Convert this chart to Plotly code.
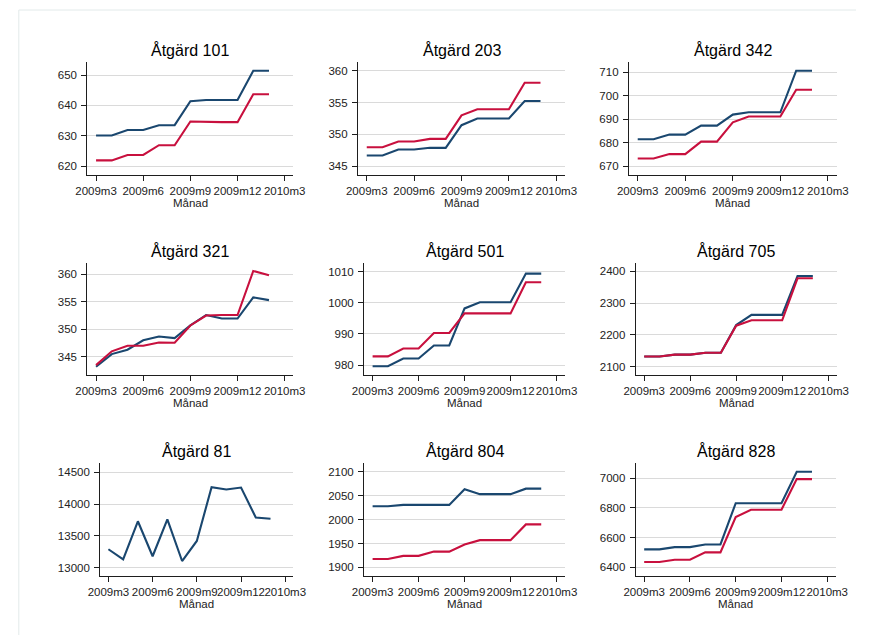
import plotly.graph_objects as go

W, H = 869, 635
FONT = "Liberation Sans, Arial, sans-serif"

# Monthly observations 2009m3 .. 2010m2 (index 0..11)
months = ["2009m3", "2009m4", "2009m5", "2009m6", "2009m7", "2009m8",
          "2009m9", "2009m10", "2009m11", "2009m12", "2010m1", "2010m2"]
month_idx = list(range(len(months)))
tick_vals = [0, 3, 6, 9, 12]
tick_labels = ["2009m3", "2009m6", "2009m9", "2009m12", "2010m3"]
x_title = "Månad"

titles = ["Åtgärd 101", "Åtgärd 203", "Åtgärd 342",
          "Åtgärd 321", "Åtgärd 501", "Åtgärd 705",
          "Åtgärd 81", "Åtgärd 804", "Åtgärd 828"]

# Series 1 (navy) and series 2 (red) per åtgärd
a101_s1 = [630.1, 630.1, 631.9, 631.9, 633.5, 633.5, 641.4, 641.8, 641.8, 641.8, 651.4, 651.4]
a101_s2 = [621.9, 621.9, 623.7, 623.7, 626.9, 626.9, 634.7, 634.5, 634.5, 634.5, 643.7, 643.7]

a203_s1 = [346.7, 346.7, 347.65, 347.65, 347.9, 347.9, 351.45, 352.5, 352.5, 352.5, 355.25, 355.25]
a203_s2 = [348.0, 348.0, 348.9, 348.9, 349.3, 349.3, 353.0, 353.95, 353.95, 353.95, 358.1, 358.1]

a342_s1 = [681.5, 681.5, 683.5, 683.5, 687.3, 687.3, 692.0, 693.0, 693.0, 693.0, 710.7, 710.7]
a342_s2 = [673.3, 673.3, 675.2, 675.2, 680.5, 680.5, 688.7, 691.2, 691.2, 691.2, 702.6, 702.6]

a321_s1 = [343.2, 345.5, 346.3, 348.0, 348.7, 348.4, 350.7, 352.6, 351.95, 351.95, 355.8, 355.3]
a321_s2 = [343.5, 346.0, 347.0, 347.0, 347.6, 347.55, 350.7, 352.5, 352.6, 352.6, 360.6, 359.8]

a501_s1 = [979.6, 979.6, 982.1, 982.1, 986.3, 986.3, 998.2, 1000.2, 1000.2, 1000.2, 1009.4, 1009.4]
a501_s2 = [982.8, 982.8, 985.3, 985.3, 990.3, 990.3, 996.6, 996.6, 996.6, 996.6, 1006.6, 1006.6]

a705_s1 = [2132, 2132, 2138, 2138, 2144, 2144, 2231, 2263, 2263, 2263, 2385, 2385]
a705_s2 = [2132, 2132, 2138, 2138, 2144, 2144, 2229, 2246, 2246, 2246, 2378, 2378]

a81_s1 = [13290, 13130, 13730, 13180, 13760, 13105, 13420, 14265, 14230, 14260, 13790, 13770]

a804_s1 = [2028, 2028, 2031, 2031, 2031, 2031, 2064, 2053.5, 2053.5, 2053.5, 2065, 2065]
a804_s2 = [1917.5, 1917.5, 1924, 1924, 1933, 1933, 1948, 1957, 1957, 1957, 1990, 1990]

a828_s1 = [6521, 6521, 6536, 6536, 6554, 6554, 6831, 6831, 6831, 6831, 7042, 7042]
a828_s2 = [6436, 6436, 6451, 6451, 6501, 6501, 6738, 6787, 6787, 6787, 6993, 6993]

series_s1 = [a101_s1, a203_s1, a342_s1, a321_s1, a501_s1, a705_s1, a81_s1, a804_s1, a828_s1]
series_s2 = [a101_s2, a203_s2, a342_s2, a321_s2, a501_s2, a705_s2, None, a804_s2, a828_s2]

y_ticks = [[620, 630, 640, 650], [345, 350, 355, 360], [670, 680, 690, 700, 710],
           [345, 350, 355, 360], [980, 990, 1000, 1010], [2100, 2200, 2300, 2400],
           [13000, 13500, 14000, 14500], [1900, 1950, 2000, 2050, 2100],
           [6400, 6600, 6800, 7000]]
y_ranges = [[617.1, 654.3], [343.64, 361.36], [666.3, 714.4],
            [341.7, 362.1], [976.8, 1012.9], [2074, 2427],
            [12874, 14651], [1882.4, 2119.5], [6344, 7103]]

# Plot-area boxes in pixels: (left, right, top, bottom)
boxes = [(76.7, 289, 62, 175), (355.7, 569, 62, 175), (635, 849, 62, 175),
         (76.7, 289, 262.7, 375), (362, 569, 262.7, 375), (642, 849, 262.7, 375),
         (90, 289, 462.7, 575.7), (362, 569, 462.7, 575.7), (642, 848, 462.7, 575.7)]

NAVY = "#1a476f"
RED = "#c8103e"
AX = "#1e1e1e"

fig = go.Figure()
layout = dict(
    width=W, height=H, margin=dict(l=0, r=0, t=0, b=0),
    paper_bgcolor="white", plot_bgcolor="white", showlegend=False,
    font=dict(family=FONT, size=11.5, color="#222"),
)
annotations = []

for i, (l, r, t, b) in enumerate(boxes):
    n = i + 1
    xa = "x" if n == 1 else f"x{n}"
    ya = "y" if n == 1 else f"y{n}"
    fig.add_trace(go.Scatter(x=month_idx, y=series_s1[i], mode="lines",
                             line=dict(color=NAVY, width=2.1), xaxis=xa, yaxis=ya))
    if series_s2[i] is not None:
        fig.add_trace(go.Scatter(x=month_idx, y=series_s2[i], mode="lines",
                                 line=dict(color=RED, width=2.1), xaxis=xa, yaxis=ya))
    xkey = "xaxis" if n == 1 else f"xaxis{n}"
    ykey = "yaxis" if n == 1 else f"yaxis{n}"
    layout[xkey] = dict(
        domain=[l / W, r / W], anchor=ya, range=[-0.55, 12.55],
        tickmode="array", tickvals=tick_vals, ticktext=tick_labels, tickangle=0,
        showgrid=False, zeroline=False, showline=True, linecolor=AX, linewidth=1.3,
        ticks="outside", ticklen=5, tickwidth=1.2, tickcolor=AX,
        tickfont=dict(family=FONT, size=11.5, color="#222"),
    )
    layout[ykey] = dict(
        domain=[1 - b / H, 1 - t / H], anchor=xa, range=y_ranges[i],
        tickmode="array", tickvals=y_ticks[i], tickformat="d",
        showgrid=True, gridcolor="#dadada", gridwidth=1.2, zeroline=False,
        showline=True, linecolor=AX, linewidth=1.3,
        ticks="outside", ticklen=5, tickwidth=1.2, tickcolor=AX, ticklabelstandoff=2,
        tickfont=dict(family=FONT, size=11.5, color="#222"),
    )
    cx = (l + r) / 2 / W
    annotations.append(dict(text=titles[i], x=cx, y=1 - (t - 11.5) / H, xref="paper", yref="paper",
                            xanchor="center", yanchor="middle", showarrow=False,
                            font=dict(family=FONT, size=16, color="black")))
    annotations.append(dict(text=x_title, x=cx, y=1 - (b + 28) / H, xref="paper", yref="paper",
                            xanchor="center", yanchor="middle", showarrow=False,
                            font=dict(family=FONT, size=11.5, color="#222")))

layout["annotations"] = annotations
# Light outer frame: top and left edges
frame = dict(color="#e2eaea", width=1)
layout["shapes"] = [
    dict(type="line", xref="paper", yref="paper", x0=6 / W, x1=1, y0=1 - 10 / H, y1=1 - 10 / H,
         line=frame, layer="below"),
    dict(type="line", xref="paper", yref="paper", x0=6 / W, x1=6 / W, y0=0, y1=1 - 10 / H,
         line=frame, layer="below"),
]
fig.update_layout(**layout)
fig.write_html("out.html")
